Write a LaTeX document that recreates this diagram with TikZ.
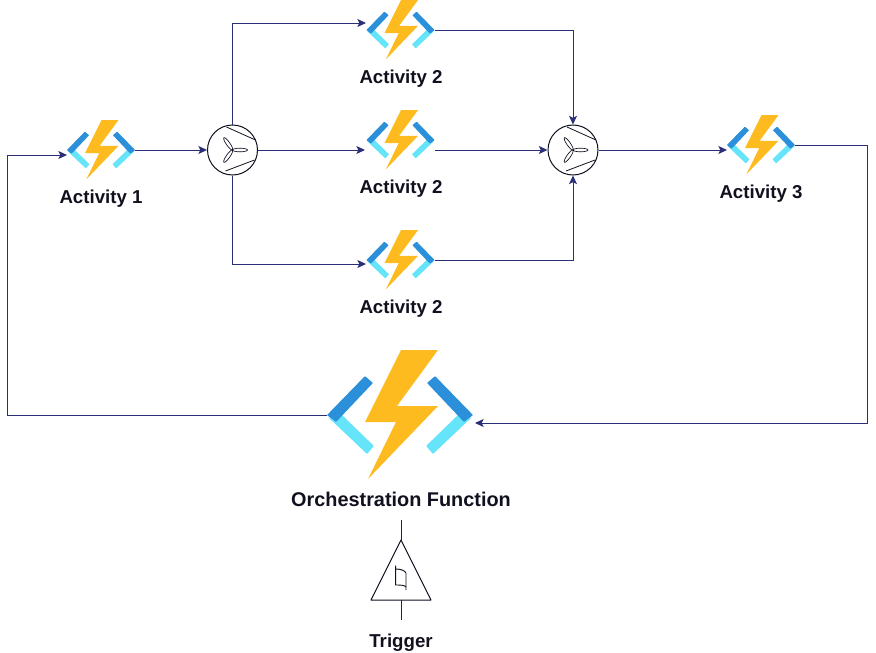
\documentclass[tikz,border=0pt]{standalone}
\usepackage{fontspec}
\setmainfont{Liberation Sans}
\usepackage{tikz}
\usetikzlibrary{arrows.meta}
\definecolor{wire}{HTML}{2A2F78}
\definecolor{ink}{HTML}{10101E}
\definecolor{boltcol}{HTML}{FDBB1F}
\definecolor{darkbar}{HTML}{2B90D9}
\definecolor{lightbar}{HTML}{66E4F9}
\tikzset{
    conn/.style={wire, line width=.75pt, -{Stealth[length=6.5pt,width=6pt,inset=1.5pt]}},
    stub/.style={wire!70!black, line width=.75pt},
    lbl/.style={text=ink, font=\fontsize{14pt}{16pt}\selectfont\bfseries, inner sep=0pt},
    smallfunc/.style={minimum width=51pt, minimum height=45pt, inner sep=0pt},
    bigfunc/.style={minimum width=109.5pt, minimum height=98pt, inner sep=0pt},
    joinnode/.style={circle, draw=ink, line width=.75pt, minimum size=37.5pt, inner sep=0pt},
    bar/.style={draw=#1, fill=#1, line width=1pt, line join=round},
    funcicon/.pic={
        \path[bar=lightbar] (-59,0) -- (-27,31) -- (-33,38) -- (-70,3) -- cycle;
        \path[bar=lightbar] (59,0) -- (27,31) -- (33,38) -- (70,3) -- cycle;
        \path[bar=darkbar] (-72,0) -- (-35,-38) -- (-28,-32) -- (-64,6) -- cycle;
        \path[bar=darkbar] (72,0) -- (35,-38) -- (28,-32) -- (64,6) -- cycle;
        \fill[boltcol] (1,-65) -- (38,-65) -- (-3,-9) -- (38,-9) -- (-32,64) -- (-4,7) -- (-35,7) -- cycle;
    },
    joinicon/.pic={
        \draw[ink, line width=.6pt] (-6,-23) -- (23,-10);
        \draw[ink, line width=.6pt] (-7,21) -- (22,10);
        \foreach \ang in {0,125,235}
            \draw[ink, line width=.5pt, rotate=\ang] (7.5,0) ellipse (7.5 and 1.8);
    }
}

\begin{document}
\begin{tikzpicture}[x=.75pt, y=-.75pt]
    \useasboundingbox (0,0) rectangle (876,653);

    % function blocks
    \node[smallfunc] (act1) at (101,150) {};
    \node[smallfunc] (act2a) at (400.5,30) {};
    \node[smallfunc] (act2b) at (400.5,140) {};
    \node[smallfunc] (act2c) at (400.5,260) {};
    \node[smallfunc] (act3) at (761,145) {};
    \node[bigfunc] (orch) at (400,415) {};
    \foreach \nm in {act1,act2a,act2b,act2c,act3}
        \pic[scale=.46] at (\nm) {funcicon};
    \pic at (orch) {funcicon};

    % fan out and fan in
    \node[joinnode] (join1) at (232.5,150) {};
    \node[joinnode] (join2) at (573,150) {};
    \pic at (join1) {joinicon};
    \pic at (join2) {joinicon};

    % labels
    \node[lbl] (lblact1) at (101,199) {Activity 1};
    \node[lbl] (lblact2a) at (401,79) {Activity 2};
    \node[lbl] (lblact2b) at (401,189) {Activity 2};
    \node[lbl] (lblact2c) at (401,309) {Activity 2};
    \node[lbl] (lblact3) at (761,194) {Activity 3};
    \node[lbl, font=\fontsize{14.9pt}{16pt}\selectfont\bfseries] (lblorch) at (401,499) {Orchestration Function};
    \node[lbl] (lbltrig) at (401,643) {Trigger};

    % connectors
    \coordinate (ina) at (366,23);
    \coordinate (inb) at (365,150);
    \coordinate (outb) at (435,150);
    \coordinate (inc) at (366,264);
    \coordinate (inloop) at (67,155);
    \coordinate (inorch) at (475,423);
    \coordinate (inact3) at (727,150);
    \draw[conn] (act1.east) -- (join1.west);
    \draw[conn] (join1.north) |- (ina);
    \draw[conn] (join1.east) -- (inb);
    \draw[conn] (join1.south) |- (inc);
    \draw[conn] (act2a.east) -| (join2.north);
    \draw[conn] (outb) -- (join2.west);
    \draw[conn] (act2c.east) -| (join2.south);
    \draw[conn] (join2.east) -- (inact3);
    \draw[conn] (act3.east) -- (867,145) -- (867,423) -- (inorch);
    \draw[conn] (orch.west) -- (7,415) -- (7,155) -- (inloop);

    % trigger
    \coordinate (trigtop) at (401,540);
    \coordinate (trigleft) at (371,600);
    \coordinate (trigright) at (431,600);
    \coordinate (trigbase) at (401,600);
    \coordinate (stubup) at (401,520);
    \coordinate (stubdown) at (401,620);
    \draw[ink, line width=.75pt, line join=round] (trigtop) -- (trigleft) -- (trigright) -- cycle;
    \draw[stub] (trigtop) -- (stubup);
    \draw[stub] (trigbase) -- (stubdown);
    \draw[ink, line width=.7pt] (395.7,565.7) -- (395.7,585) .. controls (399,585) and (405,585) .. (406,587);
    \draw[ink, line width=.7pt] (395.7,569) .. controls (399,569) and (405,570) .. (406,573) -- (406,590);
\end{tikzpicture}
\end{document}
